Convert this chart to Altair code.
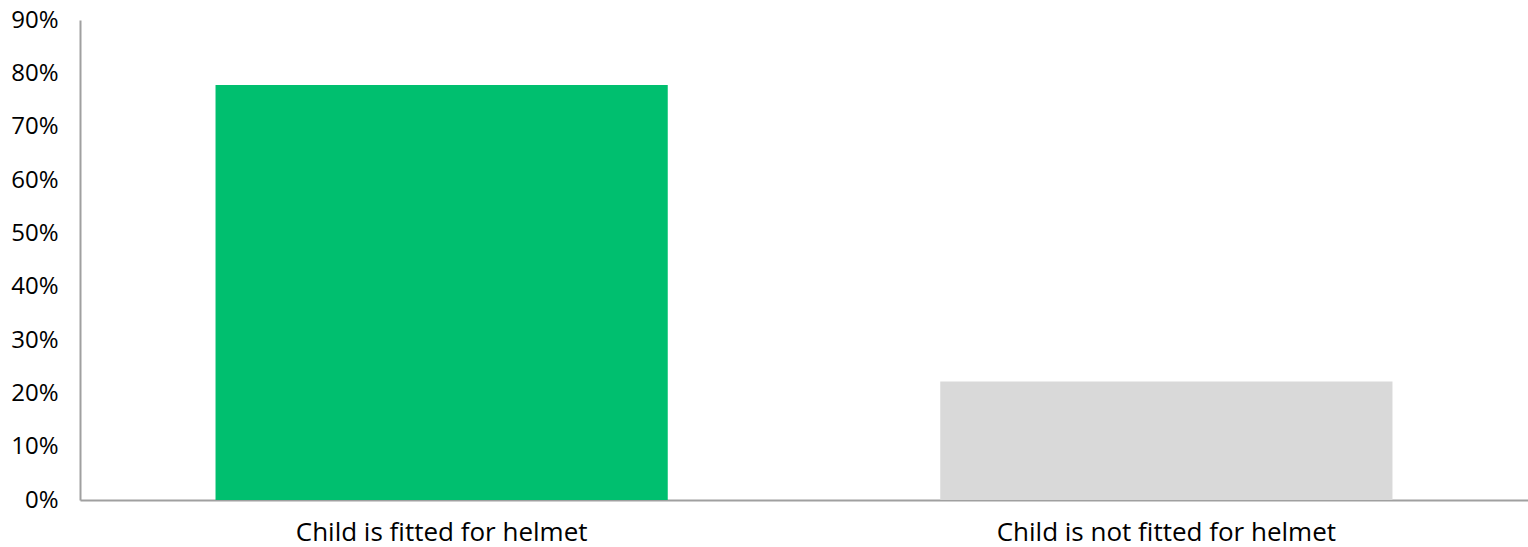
import altair as alt
import pandas as pd

categories = ["Child is fitted for helmet", "Child is not fitted for helmet"]
values = [0.778, 0.222]
colors = ["#00BF6F", "#D9D9D9"]

df = pd.DataFrame({"category": categories, "value": values, "color": colors})

chart = alt.Chart(df).mark_bar().encode(
    x=alt.X("category:N", sort=categories, title=None,
            scale=alt.Scale(paddingInner=0.376, paddingOuter=0.187),
            axis=alt.Axis(labelAngle=0, labelFontSize=26, labelColor="#000000",
                          labelFont="Open Sans", ticks=False, labelPadding=19,
                          labelLimit=0,
                          domainColor="#A0A0A0", domainWidth=2)),
    y=alt.Y("value:Q", title=None,
            scale=alt.Scale(domain=[0, 0.9], nice=False),
            axis=alt.Axis(format=".0%", values=[i / 10 for i in range(10)],
                          grid=False, ticks=False, labelFontSize=24,
                          labelColor="#000000", labelFont="Open Sans",
                          labelPadding=22, domainColor="#A0A0A0", domainWidth=2)),
    color=alt.Color("color:N", scale=None),
).properties(
    width=1448, height=480,
    autosize=alt.AutoSizeParams(type="none"),
    padding={"left": 80, "top": 20, "right": 0, "bottom": 47},
).configure_view(stroke=None)

chart.save("out.html", embed_options={"renderer": "svg", "actions": False})
